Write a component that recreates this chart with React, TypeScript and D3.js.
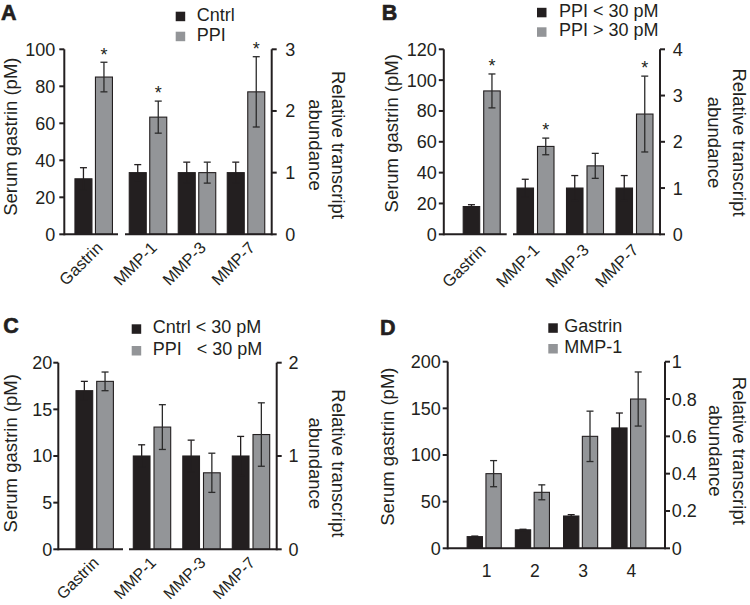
import React from "react";
import * as d3 from "d3";

const FONT = "'Liberation Sans', Arial, Helvetica, sans-serif";
const BLACK = "#231f20";
const GRAY = "#939598";

// ---------- Panel A ----------
const aCategories = ["Gastrin", "MMP-1", "MMP-3", "MMP-7"];
const aSeries = ["Cntrl", "PPI"];
const aCntrl = [30, 1.0, 1.0, 1.0];
const aCntrlErr = [6, 0.13, 0.17, 0.17];
const aPPI = [85, 1.9, 1.0, 2.31];
const aPPIErr = [8, 0.26, 0.17, 0.57];
const aPPIStars = [true, true, false, true];
const aLeftTicks = [0, 20, 40, 60, 80, 100];
const aRightTicks = [0, 1, 2, 3];

// ---------- Panel B ----------
const bCategories = ["Gastrin", "MMP-1", "MMP-3", "MMP-7"];
const bSeries = ["PPI < 30 pM", "PPI > 30 pM"];
const bLow = [18, 1.0, 1.0, 1.0];
const bLowErr = [1.2, 0.19, 0.27, 0.27];
const bHigh = [93, 1.9, 1.48, 2.6];
const bHighErr = [11, 0.18, 0.27, 0.82];
const bHighStars = [true, true, false, true];
const bLeftTicks = [0, 20, 40, 60, 80, 100, 120];
const bRightTicks = [0, 1, 2, 3, 4];

// ---------- Panel C ----------
const cCategories = ["Gastrin", "MMP-1", "MMP-3", "MMP-7"];
const cSeries = ["Cntrl < 30 pM", "PPI   < 30 pM"];
const cCntrl = [17, 1.0, 1.0, 1.0];
const cCntrlErr = [1, 0.12, 0.17, 0.21];
const cPPI = [18, 1.31, 0.82, 1.23];
const cPPIErr = [1, 0.24, 0.21, 0.34];
const cLeftTicks = [0, 5, 10, 15, 20];
const cRightTicks = [0, 1, 2];

// ---------- Panel D ----------
const dCategories = ["1", "2", "3", "4"];
const dSeries = ["Gastrin", "MMP-1"];
const dGastrin = [12.5, 19.8, 34.6, 129];
const dGastrinErr = [0.6, 0.6, 1.5, 16];
const dMMP1 = [0.4, 0.3, 0.6, 0.8];
const dMMP1Err = [0.07, 0.04, 0.135, 0.145];
const dLeftTicks = [0, 50, 100, 150, 200];
const dRightTicks = [0, 0.2, 0.4, 0.6, 0.8, 1];

type Cfg = {
  letter: string;
  letterPos: [number, number];
  categories: string[];
  series: string[];
  values: number[][];
  errors: number[][];
  stars: (boolean[] | null)[];
  axisFor: (si: number, ci: number) => "L" | "R";
  leftDomain: [number, number];
  rightDomain: [number, number];
  leftTicks: number[];
  rightTicks: number[];
  leftX: number;
  rightX: number;
  yTop: number;
  yBottom: number;
  segments: [number, number][];
  bands: { cats: string[]; range: [number, number] }[];
  barW: number;
  barGap: number;
  xLabel: { dx: number; dy: number; rotate: boolean; size: number };
  leftGap: number;
  rightGap: number;
  yLabel: [number, number];
  rLabel: { x1: number; x2: number; y: number };
  legend: { sq: number; tx: number; b: [number, number] };
};

function Panel({ cfg }: { cfg: Cfg }) {
  const yL = d3.scaleLinear().domain(cfg.leftDomain).range([cfg.yBottom, cfg.yTop]);
  const yR = d3.scaleLinear().domain(cfg.rightDomain).range([cfg.yBottom, cfg.yTop]);
  const bandScales = cfg.bands.map((b) =>
    d3.scaleBand<string>().domain(b.cats).range(b.range)
  );
  const center = (cat: string) => {
    for (const s of bandScales) {
      if (s.domain().includes(cat)) return (s(cat) as number) + s.bandwidth() / 2;
    }
    return 0;
  };
  const half = cfg.barW + cfg.barGap / 2;
  const inner = d3
    .scaleBand<string>()
    .domain(cfg.series)
    .range([-half, half])
    .paddingInner(cfg.barGap / (cfg.barW + cfg.barGap));

  const bars: React.ReactNode[] = [];
  const errs: React.ReactNode[] = [];
  const stars: React.ReactNode[] = [];
  cfg.categories.forEach((cat, ci) => {
    const cx = center(cat);
    cfg.series.forEach((ser, si) => {
      const sc = cfg.axisFor(si, ci) === "L" ? yL : yR;
      const v = cfg.values[si][ci];
      const e = cfg.errors[si][ci];
      const x = cx + (inner(ser) as number);
      const bw = inner.bandwidth();
      const y = sc(v);
      bars.push(
        <rect
          key={`b${ci}-${si}`}
          x={x}
          y={y}
          width={bw}
          height={cfg.yBottom - y}
          fill={si === 0 ? BLACK : GRAY}
          stroke={BLACK}
          strokeWidth={1.1}
        />
      );
      const mx = x + bw / 2;
      const yt = sc(v + e);
      const yb = sc(v - e);
      errs.push(
        <g key={`e${ci}-${si}`} stroke={si === 0 ? BLACK : "#2b2b2b"} strokeWidth={1.3}>
          <line x1={mx} x2={mx} y1={yt} y2={yb} />
          <line x1={mx - 3.5} x2={mx + 3.5} y1={yt} y2={yt} />
          <line x1={mx - 3.5} x2={mx + 3.5} y1={yb} y2={yb} />
        </g>
      );
      const st = cfg.stars[si];
      if (st && st[ci]) {
        stars.push(
          <text
            key={`s${ci}-${si}`}
            x={mx}
            y={yt - 1.7}
            textAnchor="middle"
            fontSize={18}
            fill={BLACK}
          >
            *
          </text>
        );
      }
    });
  });

  const { xLabel } = cfg;

  return (
    <g fontFamily={FONT} fill={BLACK}>
      <text
        x={cfg.letterPos[0]}
        y={cfg.letterPos[1]}
        fontSize={21.5}
        fontWeight="bold"
        stroke={BLACK}
        strokeWidth={0.6}
      >
        {cfg.letter}
      </text>
      {/* legend */}
      {cfg.series.map((s, si) => (
        <g key={`lg${si}`}>
          <rect
            x={cfg.legend.sq}
            y={cfg.legend.b[si] - 9}
            width={9.5}
            height={9.5}
            fill={si === 0 ? BLACK : GRAY}
          />
          <text
            x={cfg.legend.tx}
            y={cfg.legend.b[si]}
            fontSize={18}
            style={{ whiteSpace: "pre" }}
          >
            {s}
          </text>
        </g>
      ))}
      {bars}
      {errs}
      {stars}
      {/* axes */}
      <g stroke={BLACK} strokeWidth={2}>
        <line x1={cfg.leftX} x2={cfg.leftX} y1={cfg.yTop} y2={cfg.yBottom + 1} />
        {cfg.leftTicks.map((t) => (
          <line key={`lt${t}`} x1={cfg.leftX - 5} x2={cfg.leftX} y1={yL(t)} y2={yL(t)} />
        ))}
        <line x1={cfg.rightX} x2={cfg.rightX} y1={cfg.yTop} y2={cfg.yBottom + 1} />
        {cfg.rightTicks.map((t) => (
          <line key={`rt${t}`} x1={cfg.rightX} x2={cfg.rightX + 5} y1={yR(t)} y2={yR(t)} />
        ))}
        {cfg.segments.map((s, i) => (
          <line key={`sg${i}`} x1={s[0]} x2={s[1]} y1={cfg.yBottom} y2={cfg.yBottom} />
        ))}
      </g>
      {cfg.leftTicks.map((t) => (
        <text
          key={`ll${t}`}
          x={cfg.leftX - cfg.leftGap}
          y={yL(t)}
          dy="0.36em"
          textAnchor="end"
          fontSize={18}
        >
          {String(t)}
        </text>
      ))}
      {cfg.rightTicks.map((t) => (
        <text
          key={`rl${t}`}
          x={cfg.rightX + cfg.rightGap}
          y={yR(t)}
          dy="0.36em"
          textAnchor="start"
          fontSize={18}
        >
          {String(t)}
        </text>
      ))}
      {/* x labels */}
      {cfg.categories.map((cat) => {
        const cx = center(cat) + xLabel.dx;
        const cy = cfg.yBottom + xLabel.dy;
        return xLabel.rotate ? (
          <text
            key={`xl${cat}`}
            transform={`translate(${cx},${cy}) rotate(-45)`}
            textAnchor="end"
            fontSize={xLabel.size}
          >
            {cat}
          </text>
        ) : (
          <text key={`xl${cat}`} x={cx} y={cy} textAnchor="middle" fontSize={xLabel.size}>
            {cat}
          </text>
        );
      })}
      {/* axis titles */}
      <text
        transform={`translate(${cfg.yLabel[0]},${cfg.yLabel[1]}) rotate(-90)`}
        textAnchor="middle"
        fontSize={18.5}
      >
        Serum gastrin (pM)
      </text>
      <text
        transform={`translate(${cfg.rLabel.x1},${cfg.rLabel.y}) rotate(90)`}
        textAnchor="middle"
        fontSize={18.5}
      >
        Relative transcript
      </text>
      <text
        transform={`translate(${cfg.rLabel.x2},${cfg.rLabel.y}) rotate(90)`}
        textAnchor="middle"
        fontSize={18.5}
      >
        abundance
      </text>
    </g>
  );
}

const leftFirst = (si: number, ci: number): "L" | "R" => (ci === 0 ? "L" : "R");
const bySeries = (si: number, ci: number): "L" | "R" => (si === 0 ? "L" : "R");

const panels: Cfg[] = [
  {
    letter: "A",
    letterPos: [1, 19.8],
    categories: aCategories,
    series: aSeries,
    values: [aCntrl, aPPI],
    errors: [aCntrlErr, aPPIErr],
    stars: [null, aPPIStars],
    axisFor: leftFirst,
    leftDomain: [0, 100],
    rightDomain: [0, 3],
    leftTicks: aLeftTicks,
    rightTicks: aRightTicks,
    leftX: 64.3,
    rightX: 271.7,
    yTop: 49.3,
    yBottom: 234.3,
    segments: [
      [64.3, 118],
      [125, 271.7],
    ],
    bands: [
      { cats: ["Gastrin"], range: [68.7, 118.7] },
      { cats: ["MMP-1", "MMP-3", "MMP-7"], range: [123.5, 270.5] },
    ],
    barW: 17,
    barGap: 3.5,
    xLabel: { dx: 10, dy: 14.5, rotate: true, size: 16.5 },
    leftGap: 9,
    rightGap: 13.6,
    yLabel: [17.2, 136.7],
    rLabel: { x1: 332, x2: 308.5, y: 145 },
    legend: { sq: 175.7, tx: 196.7, b: [20.7, 40.7] },
  },
  {
    letter: "B",
    letterPos: [381.7, 19.8],
    categories: bCategories,
    series: bSeries,
    values: [bLow, bHigh],
    errors: [bLowErr, bHighErr],
    stars: [null, bHighStars],
    axisFor: leftFirst,
    leftDomain: [0, 120],
    rightDomain: [0, 4],
    leftTicks: bLeftTicks,
    rightTicks: bRightTicks,
    leftX: 443.8,
    rightX: 660,
    yTop: 49.3,
    yBottom: 234.3,
    segments: [
      [443.8, 506.7],
      [513, 660],
    ],
    bands: [
      { cats: ["Gastrin"], range: [456.7, 506.7] },
      { cats: ["MMP-1", "MMP-3", "MMP-7"], range: [510.75, 659.25] },
    ],
    barW: 16.5,
    barGap: 4,
    xLabel: { dx: 5, dy: 16.7, rotate: true, size: 16.5 },
    leftGap: 7,
    rightGap: 12.7,
    yLabel: [398, 133.3],
    rLabel: { x1: 732.5, x2: 708, y: 142.5 },
    legend: { sq: 537, tx: 559, b: [16.8, 36.3] },
  },
  {
    letter: "C",
    letterPos: [3.3, 333.3],
    categories: cCategories,
    series: cSeries,
    values: [cCntrl, cPPI],
    errors: [cCntrlErr, cPPIErr],
    stars: [null, null],
    axisFor: leftFirst,
    leftDomain: [0, 20],
    rightDomain: [0, 2],
    leftTicks: cLeftTicks,
    rightTicks: cRightTicks,
    leftX: 58.3,
    rightX: 276.7,
    yTop: 362.7,
    yBottom: 549.3,
    segments: [
      [58.3, 123],
      [129, 276.7],
    ],
    bands: [
      { cats: ["Gastrin"], range: [69.7, 119.7] },
      { cats: ["MMP-1", "MMP-3", "MMP-7"], range: [127.25, 275.75] },
    ],
    barW: 16.7,
    barGap: 4,
    xLabel: { dx: 5, dy: 14.5, rotate: true, size: 16 },
    leftGap: 6,
    rightGap: 11.7,
    yLabel: [17.2, 453.3],
    rLabel: { x1: 332, x2: 308.5, y: 463.3 },
    legend: { sq: 131.7, tx: 152.7, b: [333.3, 355] },
  },
  {
    letter: "D",
    letterPos: [380, 335],
    categories: dCategories,
    series: dSeries,
    values: [dGastrin, dMMP1],
    errors: [dGastrinErr, dMMP1Err],
    stars: [null, null],
    axisFor: bySeries,
    leftDomain: [0, 200],
    rightDomain: [0, 1],
    leftTicks: dLeftTicks,
    rightTicks: dRightTicks,
    leftX: 447.7,
    rightX: 665,
    yTop: 361.7,
    yBottom: 548.3,
    segments: [[447.7, 665]],
    bands: [{ cats: dCategories, range: [460.1, 652.9] }],
    barW: 15.3,
    barGap: 3.5,
    xLabel: { dx: 2.5, dy: 28.4, rotate: false, size: 17.5 },
    leftGap: 7,
    rightGap: 6.7,
    yLabel: [394, 446.7],
    rLabel: { x1: 733, x2: 709, y: 450.8 },
    legend: { sq: 548.3, tx: 564.3, b: [332.3, 353] },
  },
];

export default function App() {
  return (
    <svg
      width={750}
      height={605}
      viewBox="0 0 750 605"
      style={{ position: "absolute", left: 0, top: 0, background: "#fff" }}
    >
      <rect x={0} y={0} width={750} height={605} fill="#fff" />
      {panels.map((p) => (
        <Panel key={p.letter} cfg={p} />
      ))}
    </svg>
  );
}
